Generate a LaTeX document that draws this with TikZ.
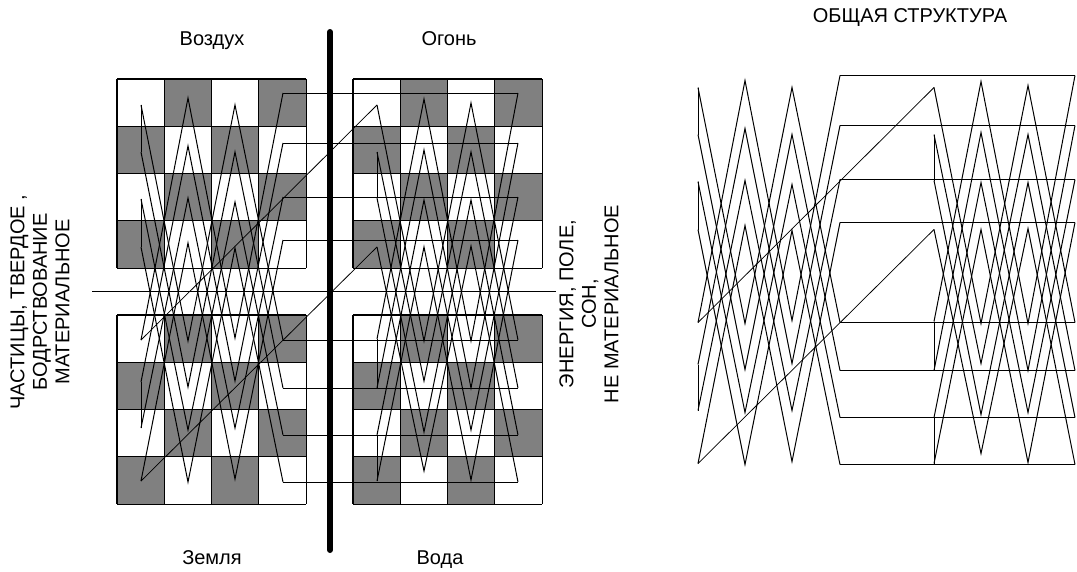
\documentclass[tikz,border=0pt]{standalone}
\usepackage{fontspec}
\setmainfont{Liberation Sans}
\definecolor{cellgray}{RGB}{128,128,128}
\newcommand\mystruct[1]{%
  % left group vertices
  \foreach \c/\x/\ya/\yb/\yc/\yd in {0/141/105/152/199/247,1/188/98/146/198/243,2/235/105/152/202/248,3/283/93/143/197/240}{
    \coordinate (#1LT\c0) at (\x,\ya); \coordinate (#1LT\c1) at (\x,\yb);
    \coordinate (#1LT\c2) at (\x,\yc); \coordinate (#1LT\c3) at (\x,\yd);}
  \foreach \c/\x/\ya/\yb/\yc/\yd in {0/141/340/382/428/481,1/188/341/387/430/482,2/235/338/381/428/479,3/283/340/388/435/482}{
    \coordinate (#1LB\c0) at (\x,\ya); \coordinate (#1LB\c1) at (\x,\yb);
    \coordinate (#1LB\c2) at (\x,\yc); \coordinate (#1LB\c3) at (\x,\yd);}
  % right group vertices
  \foreach \c/\x/\ya/\yb/\yc/\yd in {0/377/105/152/198/247,1/424/99/150/200/247,2/471/103/152/200/246,3/518/93/143/197/240}{
    \coordinate (#1RT\c0) at (\x,\ya); \coordinate (#1RT\c1) at (\x,\yb);
    \coordinate (#1RT\c2) at (\x,\yc); \coordinate (#1RT\c3) at (\x,\yd);}
  \foreach \c/\x/\ya/\yb/\yc/\yd in {0/377/339/388/435/481,1/424/341/381/432/471,2/471/341/388/430/480,3/518/340/388/435/482}{
    \coordinate (#1RB\c0) at (\x,\ya); \coordinate (#1RB\c1) at (\x,\yb);
    \coordinate (#1RB\c2) at (\x,\yc); \coordinate (#1RB\c3) at (\x,\yd);}
  % zigzags and connectors
  \foreach \i in {0,...,3}{
    \draw[zig] (#1LT0\i) -- (#1LB1\i) -- (#1LT2\i) -- (#1LB3\i);
    \draw[zig] (#1LB0\i) -- (#1LT1\i) -- (#1LB2\i) -- (#1LT3\i);
    \draw[zig] (#1RT0\i) -- (#1RB1\i) -- (#1RT2\i) -- (#1RB3\i);
    \draw[zig] (#1RB0\i) -- (#1RT1\i) -- (#1RB2\i) -- (#1RT3\i);
    \draw[zig] (#1LT3\i) -- (#1RT3\i);
    \draw[zig] (#1LB3\i) -- (#1RB3\i);
  }
  \draw[zig] (#1LT00) -- (#1LT01);
  \draw[zig] (#1LT02) -- (#1LT03);
  \draw[zig] (#1LB01) -- (#1LB02);
  \draw[zig] (#1RT01) -- (#1RT02);
  \draw[zig] (#1RB00) -- (#1RB01);
  \draw[zig] (#1RB02) -- (#1RB03);
  \draw[diag] (#1LB00) -- (#1RT00);
  \draw[diag] (#1LB03) -- (#1RT03);
}
\begin{document}
\begin{tikzpicture}[x=1pt,y=-1pt,
  zig/.style={line width=1pt},
  diag/.style={line width=0.75pt},
  gridln/.style={line width=1.1pt},
  cellg/.style={fill=cellgray},
  lbl/.style={font=\fontsize{20}{22.5}\selectfont, inner sep=0pt},
]
\useasboundingbox[fill=white] (0,0) rectangle (1077,571);
% checkerboards
\foreach \gx/\gy in {117/79,117/315,353/79,353/315}{
  \foreach \r in {0,...,3}{
    \foreach \c in {0,...,3}{
      \pgfmathtruncatemacro\odd{mod(\r+\c,2)}
      \ifnum\odd=1
        \fill[cellg] (\gx+\c*47.3,\gy+\r*47.3) rectangle ++(47.3,47.3);
      \fi
    }
  }
  \foreach \k in {0,...,4}{
    \draw[gridln] (\gx+\k*47.3,\gy) -- (\gx+\k*47.3,\gy+189.2);
    \draw[gridln] (\gx,\gy+\k*47.3) -- (\gx+189.2,\gy+\k*47.3);
  }
}
% horizontal axis
\coordinate (hl1) at (92,291);
\coordinate (hl2) at (556,291);
\draw[zig] (hl1) -- (hl2);
% structures
\mystruct{a}
\begin{scope}[shift={(557,-17.5)}]
\mystruct{b}
\end{scope}
% thick bar
\coordinate (bar1) at (330,32);
\coordinate (bar2) at (330,550);
\draw[line width=6pt, line cap=round] (bar1) -- (bar2);
% labels
\node[lbl, anchor=base] (air) at (212,45) {Воздух};
\node[lbl, anchor=base] (fire) at (449,45) {Огонь};
\node[lbl, anchor=base] (earth) at (212,564) {Земля};
\node[lbl, anchor=base] (water) at (440,564) {Вода};
\node[lbl, anchor=base] (title) at (910,22) {ОБЩАЯ СТРУКТУРА};
\node[lbl, rotate=90, align=center] (matter) at (40,302) {ЧАСТИЦЫ, ТВЕРДОЕ ,\\БОДРСТВОВАНИЕ\\МАТЕРИАЛЬНОЕ};
\node[lbl, rotate=90, align=center] (energy) at (589,304) {ЭНЕРГИЯ, ПОЛЕ,\\СОН,\\НЕ МАТЕРИАЛЬНОЕ};
\end{tikzpicture}
\end{document}
